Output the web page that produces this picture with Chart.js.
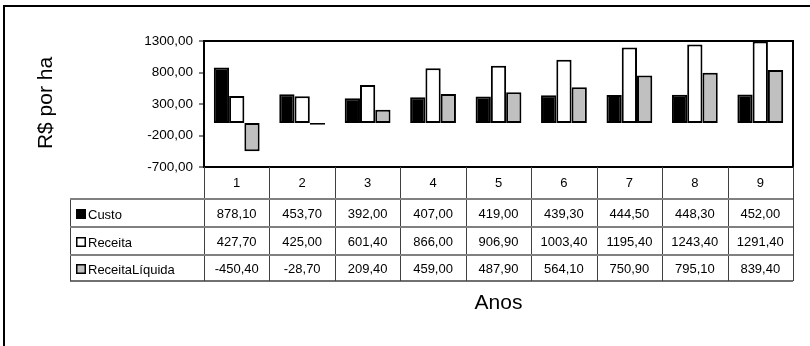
<!DOCTYPE html>
<html>
<head>
<meta charset="utf-8">
<script src="https://cdn.jsdelivr.net/npm/chart.js@4"></script>
<style>
  html, body { margin: 0; padding: 0; background: #fff; }
  canvas { display: block; }
</style>
</head>
<body>
<canvas id="c" width="810" height="346"></canvas>
<script>
const categories = ['1', '2', '3', '4', '5', '6', '7', '8', '9'];
const seriesNames = ['Custo', 'Receita', 'ReceitaLíquida'];
const custo = [878.10, 453.70, 392.00, 407.00, 419.00, 439.30, 444.50, 448.30, 452.00];
const receita = [427.70, 425.00, 601.40, 866.00, 906.90, 1003.40, 1195.40, 1243.40, 1291.40];
const receitaLiquida = [-450.40, -28.70, 209.40, 459.00, 487.90, 564.10, 750.90, 795.10, 839.40];
const yTicks = [-700, -200, 300, 800, 1300];
const yTitle = 'R$ por ha';
const xTitle = 'Anos';

const FONT = '"Liberation Sans", Arial, Helvetica, sans-serif';
const fmt = v => v.toFixed(2).replace('.', ',');
const fills = ['#000000', '#ffffff', '#c0c0c0'];
const seriesData = [custo, receita, receitaLiquida];

const tablePlugin = {
  id: 'tablePlugin',
  afterDraw(chart) {
    const ctx = chart.ctx;
    const ca = chart.chartArea;
    const xs = chart.scales.x;
    const n = categories.length;
    const colW = (ca.right - ca.left) / n;
    const bounds = [];
    for (let i = 0; i <= n; i++) {
      bounds.push(i === 0 ? xs.getPixelForValue(0) - colW / 2 : xs.getPixelForValue(i - 1) + colW / 2);
    }
    const tableLeft = 70;
    const rowLines = [199, 227, 255, 281];
    ctx.save();
    // outer frame (top + left)
    ctx.fillStyle = '#000';
    ctx.fillRect(3, 5, 810, 2);
    ctx.fillRect(3, 5, 2, 346);

    // plot box
    ctx.strokeStyle = '#000';
    ctx.lineWidth = 2;
    ctx.strokeRect(ca.left, ca.top, ca.right - ca.left, ca.bottom - ca.top);

    // vertical table lines
    ctx.strokeStyle = '#404040';
    ctx.lineWidth = 1;
    bounds.forEach(b => {
      ctx.beginPath();
      ctx.moveTo(Math.round(b) + 0.5, ca.bottom);
      ctx.lineTo(Math.round(b) + 0.5, rowLines[3]);
      ctx.stroke();
    });
    ctx.beginPath();
    ctx.moveTo(tableLeft + 0.5, rowLines[0]);
    ctx.lineTo(tableLeft + 0.5, rowLines[3]);
    ctx.stroke();

    // horizontal table lines
    ctx.strokeStyle = '#808080';
    ctx.lineWidth = 2;
    for (let r = 0; r < 3; r++) {
      ctx.beginPath();
      ctx.moveTo(tableLeft, rowLines[r]);
      ctx.lineTo(bounds[n], rowLines[r]);
      ctx.stroke();
    }
    ctx.strokeStyle = '#404040';
    ctx.lineWidth = 1.5;
    ctx.beginPath();
    ctx.moveTo(tableLeft, rowLines[3]);
    ctx.lineTo(bounds[n], rowLines[3]);
    ctx.stroke();

    // row labels and values
    ctx.textBaseline = 'middle';
    for (let r = 0; r < 3; r++) {
      const cy = (rowLines[r] + rowLines[r + 1]) / 2 + 1;
      // legend key
      ctx.fillStyle = fills[r];
      ctx.fillRect(76, cy - 5, 10, 10);
      ctx.strokeStyle = '#000';
      ctx.lineWidth = 1.5;
      ctx.strokeRect(76.75, cy - 4.25, 8.5, 8.5);
      ctx.fillStyle = '#000';
      ctx.font = '13px ' + FONT;
      ctx.textAlign = 'left';
      ctx.fillText(seriesNames[r], 88, cy + 1);
      ctx.textAlign = 'center';
      seriesData[r].forEach((v, i) => {
        ctx.fillText(fmt(v), xs.getPixelForValue(i), cy);
      });
    }

    // axis titles
    ctx.fillStyle = '#000';
    ctx.font = '21px ' + FONT;
    ctx.textAlign = 'center';
    ctx.textBaseline = 'middle';
    ctx.fillText(xTitle, (ca.left + ca.right) / 2, 303);
    ctx.save();
    ctx.translate(46, 103);
    ctx.rotate(-Math.PI / 2);
    ctx.fillText(yTitle, 0, 0);
    ctx.restore();
    ctx.restore();
  }
};

new Chart(document.getElementById('c'), {
  type: 'bar',
  data: {
    labels: categories,
    datasets: seriesNames.map((name, i) => ({
      label: name,
      data: seriesData[i],
      backgroundColor: fills[i],
      borderColor: '#000',
      borderWidth: 2,
      borderSkipped: false,
      barPercentage: 1.0,
      categoryPercentage: 0.7
    }))
  },
  options: {
    responsive: false,
    animation: false,
    events: [],
    layout: { padding: { left: 0, top: 41, right: 17, bottom: 0 } },
    plugins: {
      legend: { display: false },
      tooltip: { enabled: false },
      title: { display: false }
    },
    scales: {
      x: {
        grid: { display: false, drawTicks: false },
        border: { display: false },
        ticks: {
          color: '#000',
          font: { family: FONT, size: 13 },
          padding: 9,
          maxRotation: 0
        },
        afterFit(scale) { scale.height = 179; }
      },
      y: {
        min: -700,
        max: 1300,
        afterBuildTicks(scale) { scale.ticks = yTicks.map(v => ({ value: v })); },
        border: { display: false },
        grid: {
          color: ctx => (ctx.tick && ctx.tick.value === 0 ? '#808080' : 'rgba(0,0,0,0)'),
          lineWidth: 2,
          drawTicks: true,
          tickColor: '#000',
          tickLength: 5,
          tickWidth: 1
        },
        ticks: {
          color: '#000',
          font: { family: FONT, size: 13.5 },
          padding: 6,
          callback: v => fmt(v)
        },
        afterFit(scale) { scale.width = 204; }
      }
    }
  },
  plugins: [tablePlugin]
});
</script>
</body>
</html>
